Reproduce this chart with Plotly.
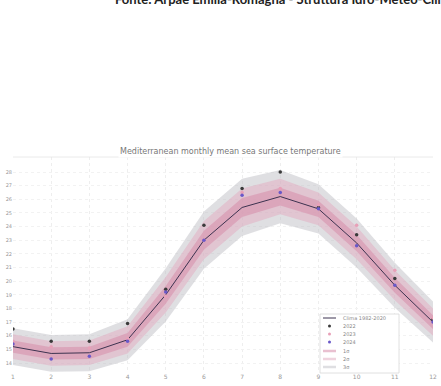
import plotly.graph_objects as go

months = list(range(1, 13))
clima = [15.2, 14.7, 14.75, 15.7, 19.0, 23.0, 25.4, 26.2, 25.3, 22.8, 19.7, 17.0]
sigma = [0.45, 0.45, 0.45, 0.5, 0.65, 0.7, 0.7, 0.65, 0.6, 0.6, 0.55, 0.5]
y2022 = [16.5, 15.6, 15.6, 16.9, 19.4, 24.1, 26.8, 28.0, 25.4, 23.4, 20.2, 17.2]
y2023 = [15.6, 15.2, 15.1, 15.8, 18.9, 23.0, 26.5, 26.8, 25.6, 24.1, 20.8, 17.3]
y2024 = [15.4, 14.3, 14.5, 15.6, 19.2, 23.0, 26.3, 26.5, 25.3, 22.6, 19.7, 17.0]
yticks = list(range(14, 29))
xticks = months
legend_names = ["Clima 1982-2020", "2022", "2023", "2024", "1σ", "2σ", "3σ"]

W, H = 441, 386
L, R, T, B = 13, 8, 157, 14
PW, PH = W - L - R, H - T - B


def px(xp):
    return (xp - L) / PW


def py(yp):
    return (H - B - yp) / PH


band_cols = {3: "rgba(185,185,190,0.45)", 2: "rgba(225,175,195,0.55)",
             1: "rgba(215,140,170,0.55)"}
clima_col = "#3d3350"
year_cols = ["#3a3a3a", "#e8a0b8", "#6a58c8"]

fig = go.Figure()
for k in (3, 2, 1):
    up = [c + k * s for c, s in zip(clima, sigma)]
    lo = [c - k * s for c, s in zip(clima, sigma)]
    fig.add_trace(go.Scatter(
        x=months + months[::-1], y=up + lo[::-1], fill="toself",
        fillcolor=band_cols[k], line=dict(width=0), mode="lines",
        name=legend_names[3 + k], hoverinfo="skip", showlegend=False))

fig.add_trace(go.Scatter(x=months, y=clima, mode="lines", name=legend_names[0],
                         line=dict(color=clima_col, width=1), showlegend=False))
for name, vals, col in zip(legend_names[1:4], [y2022, y2023, y2024], year_cols):
    fig.add_trace(go.Scatter(x=months, y=vals, mode="markers", name=name,
                             marker=dict(color=col, size=3.5), showlegend=False))

# custom compact legend (matplotlib-style)
shapes = [dict(type="rect", xref="paper", yref="paper",
               x0=px(320), x1=px(399), y0=py(373), y1=py(314),
               fillcolor="white", line=dict(color="#d8d8d8", width=0.8)),
          dict(type="line", xref="paper", yref="paper",
               x0=0, x1=1, y0=1, y1=1, line=dict(color="#e4e4e4", width=0.8))]
annotations = []
row_y = [318, 326, 334, 342, 351, 359, 367]
for i, (name, yy) in enumerate(zip(legend_names, row_y)):
    if i == 0:
        shapes.append(dict(type="line", xref="paper", yref="paper",
                           x0=px(323), x1=px(336), y0=py(yy), y1=py(yy),
                           line=dict(color=clima_col, width=1)))
    elif i <= 3:
        c = year_cols[i - 1]
        shapes.append(dict(type="circle", xref="paper", yref="paper",
                           x0=px(328), x1=px(331), y0=py(yy + 1.5), y1=py(yy - 1.5),
                           fillcolor=c, line=dict(width=0)))
    else:
        k = i - 3
        shapes.append(dict(type="line", xref="paper", yref="paper",
                           x0=px(323), x1=px(336), y0=py(yy), y1=py(yy),
                           line=dict(color=band_cols[k], width=2.5)))
    annotations.append(dict(text=name, xref="paper", yref="paper",
                            x=px(341), y=py(yy), xanchor="left", yanchor="middle",
                            showarrow=False,
                            font=dict(family="DejaVu Sans", size=5, color="#888888")))

annotations.append(dict(text="<b>Fonte: Arpae Emilia-Romagna - Struttura Idro-Meteo-Clima</b>",
                        xref="paper", yref="paper", x=px(113), y=py(-1),
                        xanchor="left", yanchor="middle", showarrow=False,
                        font=dict(family="Lato", size=13, color="#222222")))
annotations.append(dict(text="Mediterranean monthly mean sea surface temperature",
                        xref="paper", yref="paper", x=px(230), y=py(151),
                        xanchor="center", yanchor="middle", showarrow=False,
                        bgcolor="white",
                        font=dict(family="DejaVu Sans", size=8, color="#777777")))

fig.update_layout(
    width=W, height=H,
    margin=dict(l=L, r=R, t=T, b=B, autoexpand=False),
    paper_bgcolor="white", plot_bgcolor="white",
    font=dict(family="DejaVu Sans", size=6, color="#888888"),
    showlegend=False,
    shapes=shapes, annotations=annotations,
)
fig.update_xaxes(range=[1, 12], tickvals=xticks, ticks="", showgrid=True,
                 gridcolor="#eeeeee", griddash="dot", zeroline=False,
                 showline=False, automargin=False, ticklabelstandoff=0,
                 tickfont=dict(size=6, color="#999999"))
fig.update_yaxes(range=[13.34, 29.1], tickvals=yticks, ticks="", showgrid=True,
                 gridcolor="#f2f2f2", griddash="dot", zeroline=False,
                 showline=False, automargin=False,
                 tickfont=dict(size=5, color="#999999"))

fig.write_html("out.html", config={"displayModeBar": False},
               post_script="document.body.style.margin='0';document.body.style.overflow='hidden';")
